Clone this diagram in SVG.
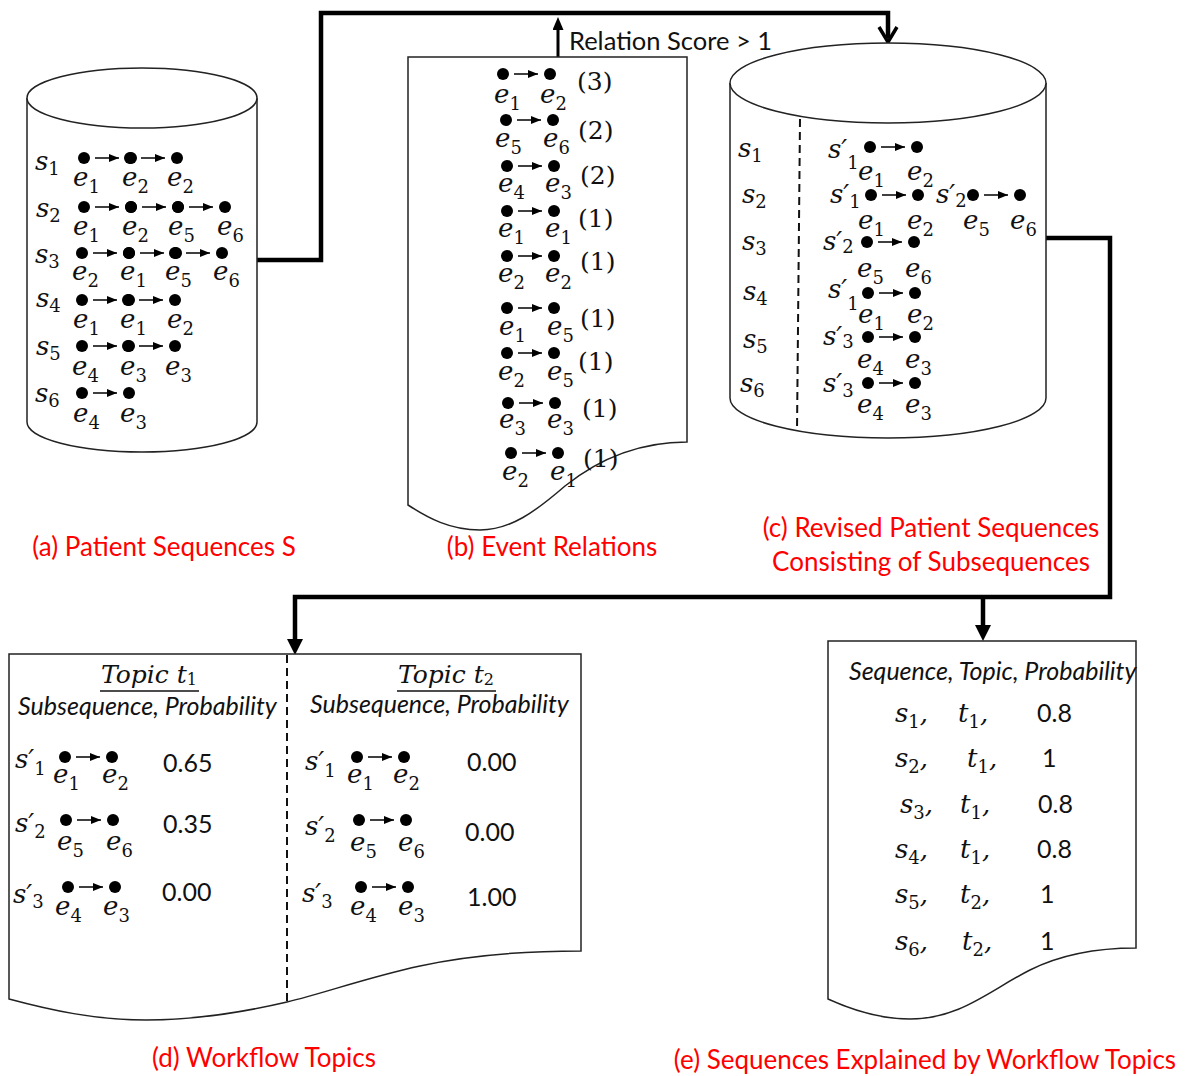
<svg xmlns="http://www.w3.org/2000/svg" xmlns:xlink="http://www.w3.org/1999/xlink" width="1196" height="1076" viewBox="0 0 1196 1076">
<style>
.shape{fill:#fff;stroke:#222;stroke-width:1.5}
.dash{fill:none;stroke:#111;stroke-width:2;stroke-dasharray:8 5}
.conn{fill:none;stroke:#000;stroke-width:4.5;stroke-linejoin:miter}
.conn2{fill:none;stroke:#000;stroke-width:3}
.ar{stroke:#000;stroke-width:1.5}
.m{font-family:"DejaVu Serif",serif;font-style:italic;font-size:26px;fill:#111}
.sub{font-style:normal;font-size:18px}
.tsub{font-style:normal;font-size:16px}
.n{font-family:"DejaVu Serif",serif;font-size:25px;fill:#111}
.cal{font-family:Lato,"Open Sans",sans-serif;fill:#111}
.red{font-family:Lato,"Open Sans",sans-serif;fill:#f00;font-size:26px;text-anchor:middle}
.hd{font-style:italic;font-size:25px}
.num{font-size:25px}
.tp{font-size:25px}
.ul{stroke:#111;stroke-width:1.5}
</style>
<defs>
<marker id="ah" markerUnits="userSpaceOnUse" markerWidth="10" markerHeight="8" refX="10" refY="4" orient="auto"><path d="M0,0 L10,4 L0,8 z" fill="#000"/></marker>
<marker id="bh" markerUnits="userSpaceOnUse" markerWidth="16" markerHeight="16" refX="2" refY="8" orient="auto"><path d="M0,0 L16,8 L0,16 z" fill="#000"/></marker>
<marker id="uh" markerUnits="userSpaceOnUse" markerWidth="13" markerHeight="11" refX="2" refY="5.5" orient="auto"><path d="M0,0 L13,5.5 L0,11 z" fill="#000"/></marker>
<g id="p"><circle cx="0" cy="0" r="6" fill="#000"/><line class="ar" x1="11" y1="0" x2="35" y2="0" marker-end="url(#ah)"/><circle cx="47" cy="0" r="6" fill="#000"/></g>
</defs>
<rect width="1196" height="1076" fill="#fff"/>

<g id="connectors">
<path class="conn" d="M257,260 H321 V13 H888 V38"/>
<path d="M879,27 L888,42 L897,27" fill="none" stroke="#000" stroke-width="3.5"/>
<path class="conn2" d="M558,57 V28" marker-end="url(#uh)"/>
<path class="conn" d="M1046,238 H1110 V597 H295 V641" marker-end="url(#bh)"/>
<path class="conn" d="M983,597 V627" marker-end="url(#bh)"/>
<text class="cal" x="569" y="50" font-size="25.5">Relation Score &gt; 1</text>
</g>

<g id="cylA">
<path class="shape" d="M27,98 V422 A115,30 0 0 0 257,422 V98"/>
<ellipse class="shape" cx="142" cy="98" rx="115" ry="30"/>
<text class="m" x="35" y="170">s<tspan class="sub" dy="5">1</tspan></text>
<text class="m" x="36" y="217">s<tspan class="sub" dy="5">2</tspan></text>
<text class="m" x="35" y="263">s<tspan class="sub" dy="5">3</tspan></text>
<text class="m" x="36" y="307">s<tspan class="sub" dy="5">4</tspan></text>
<text class="m" x="36" y="355">s<tspan class="sub" dy="5">5</tspan></text>
<text class="m" x="35" y="402">s<tspan class="sub" dy="5">6</tspan></text>
<use xlink:href="#p" x="84" y="158"/><use xlink:href="#p" x="130" y="158"/>
<use xlink:href="#p" x="84" y="207"/><use xlink:href="#p" x="131" y="207"/><use xlink:href="#p" x="178" y="207"/>
<use xlink:href="#p" x="82" y="253"/><use xlink:href="#p" x="129" y="253"/><use xlink:href="#p" x="175" y="253"/>
<use xlink:href="#p" x="82" y="300"/><use xlink:href="#p" x="128" y="300"/>
<use xlink:href="#p" x="82" y="346"/><use xlink:href="#p" x="128" y="346"/>
<use xlink:href="#p" x="82" y="393"/>
<text class="m" x="73" y="186">e<tspan class="sub" dy="7">1</tspan></text>
<text class="m" x="122" y="186">e<tspan class="sub" dy="7">2</tspan></text>
<text class="m" x="167" y="186">e<tspan class="sub" dy="7">2</tspan></text>
<text class="m" x="73" y="235">e<tspan class="sub" dy="7">1</tspan></text>
<text class="m" x="122" y="235">e<tspan class="sub" dy="7">2</tspan></text>
<text class="m" x="168" y="235">e<tspan class="sub" dy="7">5</tspan></text>
<text class="m" x="217" y="235">e<tspan class="sub" dy="7">6</tspan></text>
<text class="m" x="72" y="280">e<tspan class="sub" dy="7">2</tspan></text>
<text class="m" x="120" y="280">e<tspan class="sub" dy="7">1</tspan></text>
<text class="m" x="165" y="280">e<tspan class="sub" dy="7">5</tspan></text>
<text class="m" x="213" y="280">e<tspan class="sub" dy="7">6</tspan></text>
<text class="m" x="73" y="328">e<tspan class="sub" dy="7">1</tspan></text>
<text class="m" x="120" y="328">e<tspan class="sub" dy="7">1</tspan></text>
<text class="m" x="167" y="328">e<tspan class="sub" dy="7">2</tspan></text>
<text class="m" x="72" y="375">e<tspan class="sub" dy="7">4</tspan></text>
<text class="m" x="120" y="375">e<tspan class="sub" dy="7">3</tspan></text>
<text class="m" x="165" y="375">e<tspan class="sub" dy="7">3</tspan></text>
<text class="m" x="73" y="422">e<tspan class="sub" dy="7">4</tspan></text>
<text class="m" x="120" y="422">e<tspan class="sub" dy="7">3</tspan></text>
<text class="red" x="164" y="556">(a) Patient Sequences S</text>
</g>

<g id="docB">
<path class="shape" d="M408,57 H687 V442 C640,442 600,458 565,486 C535,512 510,530 480,530 C450,530 428,518 408,505 Z"/>
<use xlink:href="#p" x="503" y="74"/>
<use xlink:href="#p" x="506" y="120"/>
<use xlink:href="#p" x="507" y="166"/>
<use xlink:href="#p" x="507" y="211"/>
<use xlink:href="#p" x="507" y="256"/>
<use xlink:href="#p" x="507" y="308"/>
<use xlink:href="#p" x="507" y="353"/>
<use xlink:href="#p" x="508" y="403"/>
<use xlink:href="#p" x="511" y="453"/>
<text class="m" x="494" y="103">e<tspan class="sub" dy="7">1</tspan></text>
<text class="m" x="540" y="103">e<tspan class="sub" dy="7">2</tspan></text>
<text class="m" x="495" y="147">e<tspan class="sub" dy="7">5</tspan></text>
<text class="m" x="543" y="147">e<tspan class="sub" dy="7">6</tspan></text>
<text class="m" x="498" y="192">e<tspan class="sub" dy="7">4</tspan></text>
<text class="m" x="545" y="192">e<tspan class="sub" dy="7">3</tspan></text>
<text class="m" x="498" y="237">e<tspan class="sub" dy="7">1</tspan></text>
<text class="m" x="545" y="237">e<tspan class="sub" dy="7">1</tspan></text>
<text class="m" x="498" y="282">e<tspan class="sub" dy="7">2</tspan></text>
<text class="m" x="545" y="282">e<tspan class="sub" dy="7">2</tspan></text>
<text class="m" x="499" y="335">e<tspan class="sub" dy="7">1</tspan></text>
<text class="m" x="547" y="335">e<tspan class="sub" dy="7">5</tspan></text>
<text class="m" x="498" y="380">e<tspan class="sub" dy="7">2</tspan></text>
<text class="m" x="547" y="380">e<tspan class="sub" dy="7">5</tspan></text>
<text class="m" x="499" y="428">e<tspan class="sub" dy="7">3</tspan></text>
<text class="m" x="547" y="428">e<tspan class="sub" dy="7">3</tspan></text>
<text class="m" x="502" y="480">e<tspan class="sub" dy="7">2</tspan></text>
<text class="m" x="550" y="480">e<tspan class="sub" dy="7">1</tspan></text>
<text class="n" x="577" y="90">(3)</text>
<text class="n" x="578" y="139">(2)</text>
<text class="n" x="580" y="184">(2)</text>
<text class="n" x="578" y="227">(1)</text>
<text class="n" x="580" y="270">(1)</text>
<text class="n" x="580" y="327">(1)</text>
<text class="n" x="578" y="370">(1)</text>
<text class="n" x="582" y="417">(1)</text>
<text class="n" x="583" y="467">(1)</text>
<text class="red" x="552" y="556">(b) Event Relations</text>
</g>

<g id="cylC">
<path class="shape" d="M730,83 V398 A158,40 0 0 0 1046,398 V83"/>
<ellipse class="shape" cx="888" cy="83" rx="158" ry="40"/>
<line class="dash" x1="800" y1="119" x2="797" y2="431"/>
<text class="m" x="738" y="157">s<tspan class="sub" dy="5">1</tspan></text>
<text class="m" x="742" y="203">s<tspan class="sub" dy="5">2</tspan></text>
<text class="m" x="742" y="250">s<tspan class="sub" dy="5">3</tspan></text>
<text class="m" x="743" y="300">s<tspan class="sub" dy="5">4</tspan></text>
<text class="m" x="743" y="348">s<tspan class="sub" dy="5">5</tspan></text>
<text class="m" x="740" y="392">s<tspan class="sub" dy="5">6</tspan></text>
<text class="m" x="828" y="158">s&#8242;<tspan class="sub" dy="11">1</tspan></text>
<text class="m" x="830" y="203">s&#8242;<tspan class="sub" dy="5">1</tspan></text>
<text class="m" x="936" y="203">s&#8242;<tspan class="sub" dy="4">2</tspan></text>
<text class="m" x="823" y="250">s&#8242;<tspan class="sub" dy="3">2</tspan></text>
<text class="m" x="828" y="298">s&#8242;<tspan class="sub" dy="12">1</tspan></text>
<text class="m" x="823" y="345">s&#8242;<tspan class="sub" dy="3">3</tspan></text>
<text class="m" x="823" y="392">s&#8242;<tspan class="sub" dy="5">3</tspan></text>
<use xlink:href="#p" x="870" y="147"/>
<use xlink:href="#p" x="871" y="195"/>
<use xlink:href="#p" x="973" y="195"/>
<use xlink:href="#p" x="867" y="242"/>
<use xlink:href="#p" x="868" y="293"/>
<use xlink:href="#p" x="868" y="337"/>
<use xlink:href="#p" x="868" y="383"/>
<text class="m" x="858" y="180">e<tspan class="sub" dy="7">1</tspan></text>
<text class="m" x="907" y="180">e<tspan class="sub" dy="7">2</tspan></text>
<text class="m" x="858" y="229">e<tspan class="sub" dy="7">1</tspan></text>
<text class="m" x="907" y="229">e<tspan class="sub" dy="7">2</tspan></text>
<text class="m" x="963" y="229">e<tspan class="sub" dy="7">5</tspan></text>
<text class="m" x="1010" y="229">e<tspan class="sub" dy="7">6</tspan></text>
<text class="m" x="857" y="277">e<tspan class="sub" dy="7">5</tspan></text>
<text class="m" x="905" y="277">e<tspan class="sub" dy="7">6</tspan></text>
<text class="m" x="858" y="323">e<tspan class="sub" dy="7">1</tspan></text>
<text class="m" x="907" y="323">e<tspan class="sub" dy="7">2</tspan></text>
<text class="m" x="857" y="368">e<tspan class="sub" dy="7">4</tspan></text>
<text class="m" x="905" y="368">e<tspan class="sub" dy="7">3</tspan></text>
<text class="m" x="857" y="413">e<tspan class="sub" dy="7">4</tspan></text>
<text class="m" x="905" y="413">e<tspan class="sub" dy="7">3</tspan></text>
<text class="red" x="931" y="537">(c) Revised Patient Sequences</text>
<text class="red" x="931" y="571">Consisting of Subsequences</text>
</g>

<g id="docD">
<path class="shape" d="M9,654 H581 V951 C520,951 470,955 420,966 C365,978 325,993 287,1002 C240,1013 195,1020 146,1020 C95,1020 50,1010 9,999 Z"/>
<line class="dash" x1="287" y1="655" x2="287" y2="1002"/>
<text class="m tp" x="101" y="683">Topic t<tspan class="tsub" dy="2">1</tspan></text>
<line class="ul" x1="100" y1="691" x2="199" y2="691"/>
<text class="m tp" x="398" y="683">Topic t<tspan class="tsub" dy="2">2</tspan></text>
<line class="ul" x1="397" y1="691" x2="496" y2="691"/>
<text class="cal hd" x="18" y="715">Subsequence, Probability</text>
<text class="cal hd" x="310" y="713">Subsequence, Probability</text>
<text class="m" x="15" y="768">s&#8242;<tspan class="sub" dy="7">1</tspan></text>
<text class="m" x="15" y="832">s&#8242;<tspan class="sub" dy="6">2</tspan></text>
<text class="m" x="13" y="903">s&#8242;<tspan class="sub" dy="5">3</tspan></text>
<text class="m" x="305" y="770">s&#8242;<tspan class="sub" dy="7">1</tspan></text>
<text class="m" x="305" y="835">s&#8242;<tspan class="sub" dy="7">2</tspan></text>
<text class="m" x="302" y="902">s&#8242;<tspan class="sub" dy="6">3</tspan></text>
<use xlink:href="#p" x="65" y="757"/>
<use xlink:href="#p" x="66" y="820"/>
<use xlink:href="#p" x="68" y="887"/>
<use xlink:href="#p" x="357" y="757"/>
<use xlink:href="#p" x="359" y="820"/>
<use xlink:href="#p" x="361" y="887"/>
<text class="m" x="53" y="783">e<tspan class="sub" dy="7">1</tspan></text>
<text class="m" x="102" y="783">e<tspan class="sub" dy="7">2</tspan></text>
<text class="m" x="57" y="850">e<tspan class="sub" dy="7">5</tspan></text>
<text class="m" x="106" y="850">e<tspan class="sub" dy="7">6</tspan></text>
<text class="m" x="55" y="915">e<tspan class="sub" dy="7">4</tspan></text>
<text class="m" x="103" y="915">e<tspan class="sub" dy="7">3</tspan></text>
<text class="m" x="347" y="783">e<tspan class="sub" dy="7">1</tspan></text>
<text class="m" x="393" y="783">e<tspan class="sub" dy="7">2</tspan></text>
<text class="m" x="350" y="851">e<tspan class="sub" dy="7">5</tspan></text>
<text class="m" x="398" y="851">e<tspan class="sub" dy="7">6</tspan></text>
<text class="m" x="350" y="915">e<tspan class="sub" dy="7">4</tspan></text>
<text class="m" x="398" y="915">e<tspan class="sub" dy="7">3</tspan></text>
<text class="cal num" x="163" y="772">0.65</text>
<text class="cal num" x="163" y="833">0.35</text>
<text class="cal num" x="162" y="901">0.00</text>
<text class="cal num" x="467" y="771">0.00</text>
<text class="cal num" x="465" y="841">0.00</text>
<text class="cal num" x="467" y="906">1.00</text>
<text class="red" x="264" y="1067">(d) Workflow Topics</text>
</g>

<g id="docE">
<path class="shape" d="M828,641 H1136 V948 C1095,948 1060,955 1030,970 C990,990 960,1019 910,1019 C880,1019 852,1010 828,999 Z"/>
<text class="cal hd" x="849" y="680">Sequence, Topic, Probability</text>
<text class="m" x="895" y="722">s<tspan class="sub" dy="6">1</tspan><tspan dy="-6">,</tspan></text>
<text class="m" x="958" y="722">t<tspan class="sub" dy="6">1</tspan><tspan dy="-6">,</tspan></text>
<text class="cal num" x="1037" y="722">0.8</text>
<text class="m" x="895" y="767">s<tspan class="sub" dy="6">2</tspan><tspan dy="-6">,</tspan></text>
<text class="m" x="967" y="767">t<tspan class="sub" dy="6">1</tspan><tspan dy="-6">,</tspan></text>
<text class="cal num" x="1042" y="767">1</text>
<text class="m" x="900" y="813">s<tspan class="sub" dy="6">3</tspan><tspan dy="-6">,</tspan></text>
<text class="m" x="960" y="813">t<tspan class="sub" dy="6">1</tspan><tspan dy="-6">,</tspan></text>
<text class="cal num" x="1038" y="813">0.8</text>
<text class="m" x="895" y="858">s<tspan class="sub" dy="6">4</tspan><tspan dy="-6">,</tspan></text>
<text class="m" x="960" y="858">t<tspan class="sub" dy="6">1</tspan><tspan dy="-6">,</tspan></text>
<text class="cal num" x="1037" y="858">0.8</text>
<text class="m" x="895" y="903">s<tspan class="sub" dy="6">5</tspan><tspan dy="-6">,</tspan></text>
<text class="m" x="960" y="903">t<tspan class="sub" dy="6">2</tspan><tspan dy="-6">,</tspan></text>
<text class="cal num" x="1040" y="903">1</text>
<text class="m" x="895" y="950">s<tspan class="sub" dy="6">6</tspan><tspan dy="-6">,</tspan></text>
<text class="m" x="962" y="950">t<tspan class="sub" dy="6">2</tspan><tspan dy="-6">,</tspan></text>
<text class="cal num" x="1040" y="950">1</text>
<text class="red" x="925" y="1069">(e) Sequences Explained by Workflow Topics</text>
</g>
</svg>
